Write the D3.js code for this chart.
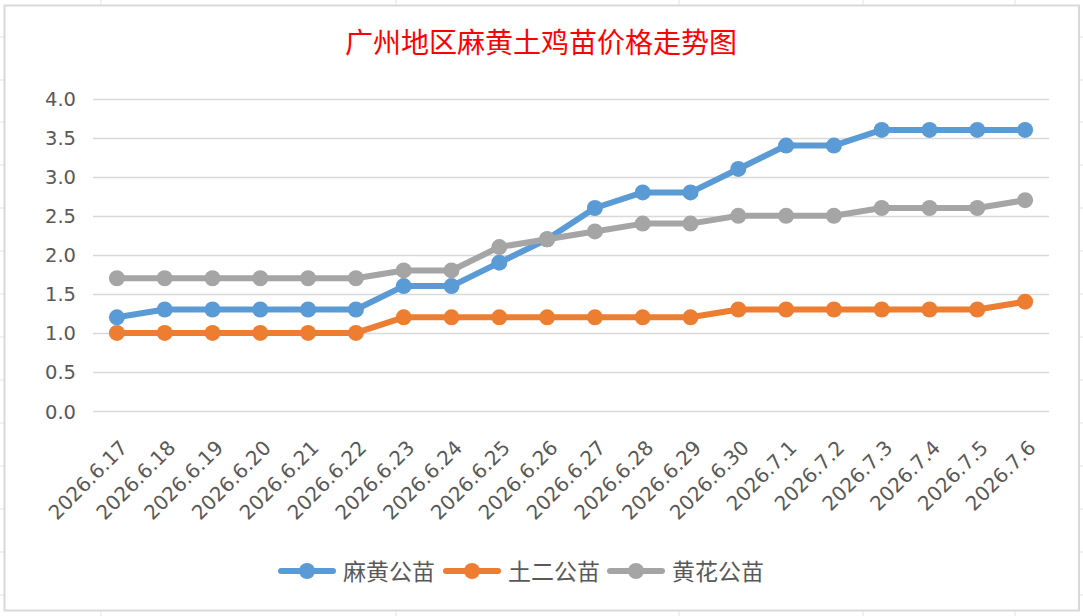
<!DOCTYPE html>
<html>
<head>
<meta charset="utf-8">
<script src="https://cdn.jsdelivr.net/npm/d3@7"></script>
<style>
  html, body { margin: 0; padding: 0; background: #fff; }
  svg { display: block; }
</style>
</head>
<body>
<svg id="chart" width="1083" height="616"></svg>
<script>
const title = "广州地区麻黄土鸡苗价格走势图";
const categories = ["2026.6.17","2026.6.18","2026.6.19","2026.6.20","2026.6.21","2026.6.22","2026.6.23","2026.6.24","2026.6.25","2026.6.26","2026.6.27","2026.6.28","2026.6.29","2026.6.30","2026.7.1","2026.7.2","2026.7.3","2026.7.4","2026.7.5","2026.7.6"];
const seriesNames = ["麻黄公苗", "土二公苗", "黄花公苗"];
const mahuang = [1.2,1.3,1.3,1.3,1.3,1.3,1.6,1.6,1.9,2.2,2.6,2.8,2.8,3.1,3.4,3.4,3.6,3.6,3.6,3.6];
const tuer    = [1.0,1.0,1.0,1.0,1.0,1.0,1.2,1.2,1.2,1.2,1.2,1.2,1.2,1.3,1.3,1.3,1.3,1.3,1.3,1.4];
const huanghua= [1.7,1.7,1.7,1.7,1.7,1.7,1.8,1.8,2.1,2.2,2.3,2.4,2.4,2.5,2.5,2.5,2.6,2.6,2.6,2.7];
const yTicks = [0,0.5,1.0,1.5,2.0,2.5,3.0,3.5,4.0];
const colors = ["#5b9bd5", "#ed7d31", "#a5a5a5"];

// decorative spreadsheet cell grid behind the chart object
const cellRows = [37,80,122,165,208,251,294,337,380,423,466,509,552,595];
const cellCols = [101,396,679,863,1015];

const svg = d3.select("#chart");
const W = 1083, H = 616;

// sheet grid
svg.append("g").selectAll("line.r").data(cellRows).join("line")
  .attr("x1", 0).attr("x2", W).attr("y1", d => d).attr("y2", d => d)
  .attr("stroke", "#e3e3e3").attr("stroke-width", 1);
svg.append("g").selectAll("line.c").data(cellCols).join("line")
  .attr("x1", d => d).attr("x2", d => d).attr("y1", 0).attr("y2", H)
  .attr("stroke", "#e3e3e3").attr("stroke-width", 1);

// chart area
svg.append("rect").attr("x", 4.5).attr("y", 5.5).attr("width", 1074.5).attr("height", 605)
  .attr("fill", "#fff").attr("stroke", "#d9d9d9").attr("stroke-width", 2);

// title
svg.append("text").attr("x", 541).attr("y", 53).attr("text-anchor", "middle")
  .attr("font-family", "'Noto Sans CJK SC', sans-serif").attr("font-size", 28)
  .attr("fill", "#ff0000").text(title);

const x = d3.scalePoint().domain(categories).range([93, 1049]).padding(0.5);
const y = d3.scaleLinear().domain([0, 4]).range([411, 98.7]);

// grid
svg.append("g").selectAll("line").data(yTicks).join("line")
  .attr("x1", 93).attr("x2", 1049)
  .attr("y1", d => Math.round(y(d)) + 0.5).attr("y2", d => Math.round(y(d)) + 0.5)
  .attr("stroke", "#d9d9d9").attr("stroke-width", 1.6);

// y labels
svg.append("g").selectAll("text").data(yTicks).join("text")
  .attr("x", 76).attr("y", d => y(d) + 7.5)
  .attr("text-anchor", "end")
  .attr("font-family", "'DejaVu Sans', sans-serif").attr("font-size", 19.5)
  .attr("fill", "#595959")
  .text(d => d3.format(".1f")(d));

// x labels
svg.append("g").selectAll("text").data(categories).join("text")
  .attr("transform", d => `translate(${x(d) + 1},438) rotate(-45)`)
  .attr("dy", 15.5)
  .attr("text-anchor", "end")
  .attr("font-family", "'DejaVu Sans', sans-serif").attr("font-size", 20)
  .attr("fill", "#595959")
  .text(d => d);

// series
const allSeries = [mahuang, tuer, huanghua];
const line = d3.line().x((d, i) => x(categories[i])).y(d => y(d));
allSeries.forEach((s, k) => {
  const g = svg.append("g");
  g.append("path").datum(s).attr("d", line)
    .attr("fill", "none").attr("stroke", colors[k]).attr("stroke-width", 6)
    .attr("stroke-linejoin", "round").attr("stroke-linecap", "round");
  g.selectAll("circle").data(s).join("circle")
    .attr("cx", (d, i) => x(categories[i])).attr("cy", d => y(d))
    .attr("r", 8).attr("fill", colors[k]);
});

// legend
const legX = [278, 443, 607];
const leg = svg.append("g");
seriesNames.forEach((n, k) => {
  const lx = legX[k];
  leg.append("line").attr("x1", lx + 3).attr("x2", lx + 55).attr("y1", 571).attr("y2", 571)
    .attr("stroke", colors[k]).attr("stroke-width", 6).attr("stroke-linecap", "round");
  leg.append("circle").attr("cx", lx + 29).attr("cy", 571).attr("r", 8).attr("fill", colors[k]);
  leg.append("text").attr("x", lx + 65).attr("y", 580)
    .attr("font-family", "'Noto Sans CJK SC', sans-serif").attr("font-size", 23)
    .attr("fill", "#595959").text(n);
});
</script>
</body>
</html>
